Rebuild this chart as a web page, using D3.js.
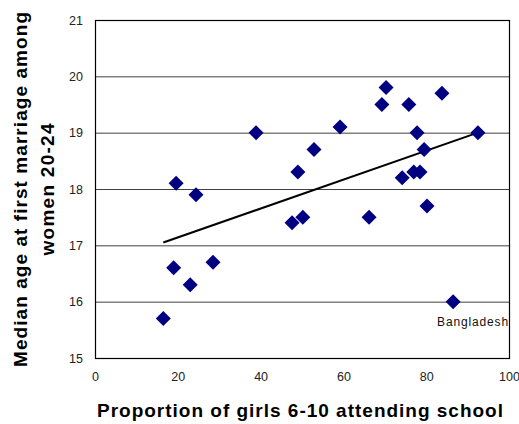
<!DOCTYPE html>
<html>
<head>
<meta charset="utf-8">
<script src="https://cdn.jsdelivr.net/npm/d3@7"></script>
<style>
  body { margin: 0; background: #fff; }
  text { font-family: "Liberation Sans", Arial, sans-serif; }
</style>
</head>
<body>
<svg width="519" height="424"></svg>
<script>
// proportion of girls 6-10 attending school (%)
var schoolPct = [16.5, 19, 23, 28.5, 19.6, 24.4, 38.9, 47.6, 50.2, 49, 52.9, 59.2, 66.2,
                 69.3, 70.3, 75.8, 83.8, 77.8, 79.5, 74.2, 77, 78.5, 80.2, 92.5, 86.5];
// median age at first marriage, women 20-24
var medianAge = [15.7, 16.6, 16.3, 16.7, 18.1, 17.9, 19.0, 17.4, 17.5, 18.3, 18.7, 19.1, 17.5,
                 19.5, 19.8, 19.5, 19.7, 19.0, 18.7, 18.2, 18.3, 18.3, 17.7, 19.0, 16.0];
var labels = ["", "", "", "", "", "", "", "", "", "", "", "", "",
              "", "", "", "", "", "", "", "", "", "", "", "Bangladesh"];

// linear trend endpoints
var trendX = [16.5, 92.5];
var trendY = [17.05, 19.0];

var xTicks = [0, 20, 40, 60, 80, 100];
var yTicks = [15, 16, 17, 18, 19, 20, 21];

var svg = d3.select("svg"),
    plotL = 95, plotR = 509, plotT = 20, plotB = 358;

var x = d3.scaleLinear().domain([0, 100]).range([plotL, plotR]);
var y = d3.scaleLinear().domain([15, 21]).range([plotB, plotT]);

// gridlines
svg.append("g")
    .selectAll("line")
    .data(yTicks)
    .enter().append("line")
    .attr("x1", plotL).attr("x2", plotR)
    .attr("y1", d => y(d) + 0.5).attr("y2", d => y(d) + 0.5)
    .attr("stroke", "#404040").attr("stroke-width", 1);

// plot border
svg.append("rect")
    .attr("x", plotL + 0.5).attr("y", plotT + 0.5)
    .attr("width", plotR - plotL).attr("height", plotB - plotT)
    .attr("fill", "none").attr("stroke", "#000").attr("stroke-width", 1.2);

// axes
var yAxis = svg.append("g")
    .attr("transform", "translate(" + (plotL - 12) + ",0)")
    .call(d3.axisLeft(y).tickValues(yTicks).tickFormat(d3.format("d")).tickSize(0).tickPadding(0));
var xAxis = svg.append("g")
    .attr("transform", "translate(0," + (plotB + 14) + ")")
    .call(d3.axisBottom(x).tickValues(xTicks).tickFormat(d3.format("d")).tickSize(0).tickPadding(0));
[yAxis, xAxis].forEach(function(a) {
    a.select(".domain").remove();
    a.selectAll("text")
        .style("font-family", "'Liberation Sans', Arial, sans-serif")
        .style("font-size", "12.5px")
        .attr("fill", "#222");
});

// trendline
svg.append("line")
    .attr("x1", x(trendX[0])).attr("y1", y(trendY[0]))
    .attr("x2", x(trendX[1])).attr("y2", y(trendY[1]))
    .attr("stroke", "#000").attr("stroke-width", 2);

// diamonds
var h = 7.5;
var pts = schoolPct.map((d, i) => ({x: d, y: medianAge[i], label: labels[i]}));
svg.append("g")
    .selectAll("path")
    .data(pts)
    .enter().append("path")
    .attr("transform", d => "translate(" + x(d.x) + "," + y(d.y) + ")")
    .attr("d", "M0," + (-h) + "L" + h + ",0L0," + h + "L" + (-h) + ",0Z")
    .attr("fill", "#000080");

svg.append("g")
    .selectAll("text")
    .data(pts.filter(d => d.label))
    .enter().append("text")
    .attr("x", d => x(d.x) - 16)
    .attr("y", d => y(d.y) + 24)
    .attr("textLength", 71)
    .attr("lengthAdjust", "spacing")
    .style("font-size", "12px")
    .attr("fill", "#111")
    .text(d => d.label);

// axis titles
svg.append("text")
    .attr("x", 97)
    .attr("y", 417)
    .attr("textLength", 406)
    .attr("lengthAdjust", "spacing")
    .style("font-size", "19px")
    .style("font-weight", "bold")
    .text("Proportion of girls 6-10 attending school");

var yt = svg.append("text")
    .attr("transform", "translate(27,189.5) rotate(-90)")
    .style("font-size", "19px")
    .style("font-weight", "bold");
yt.append("tspan").attr("x", -177.5).attr("y", 0)
    .attr("textLength", 355).attr("lengthAdjust", "spacing")
    .text("Median age at first marriage among");
yt.append("tspan").attr("x", -66).attr("y", 27)
    .attr("textLength", 132).attr("lengthAdjust", "spacing")
    .text("women 20-24");
</script>
</body>
</html>
